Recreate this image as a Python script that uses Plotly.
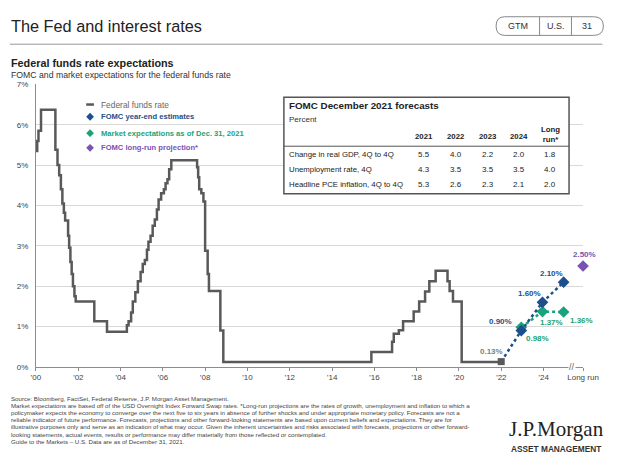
import plotly.graph_objects as go

W, H = 630, 467

# ---------------- data ----------------
ffr_dates = [2000.00, 2000.06, 2000.12, 2000.24, 2000.92, 2001.02, 2001.10, 2001.18, 2001.25,
             2001.32, 2001.38, 2001.52, 2001.57, 2001.63, 2001.69, 2001.75, 2001.82, 2001.88,
             2002.76, 2003.36, 2004.30, 2004.38, 2004.50, 2004.58, 2004.70, 2004.82, 2004.95,
             2005.05, 2005.15, 2005.25, 2005.32, 2005.42, 2005.52, 2005.62, 2005.72, 2005.80,
             2005.92, 2006.05, 2006.13, 2006.22, 2006.30, 2006.40, 2007.62, 2007.67, 2007.72,
             2007.82, 2007.92, 2008.00, 2008.12, 2008.18, 2008.72, 2008.86, 2015.86, 2016.84,
             2016.92, 2017.16, 2017.36, 2017.86, 2018.12, 2018.40, 2018.60, 2018.90, 2019.46,
             2019.56, 2019.72, 2020.13, 2022.00]
ffr_values = [5.35, 5.60, 5.85, 6.37, 5.38, 5.00, 4.75, 4.40, 4.05,
              3.82, 3.63, 3.25, 2.95, 2.60, 2.30, 2.00, 1.75, 1.62,
              1.13, 0.87, 1.03, 1.13, 1.35, 1.62, 1.85, 2.12, 2.35,
              2.55, 2.65, 2.90, 3.10, 3.25, 3.50, 3.65, 3.90, 4.15,
              4.30, 4.40, 4.55, 4.65, 4.90, 5.12, 4.95, 4.70, 4.40,
              4.30, 4.10, 2.88, 2.30, 1.88, 0.90, 0.12, 0.37, 0.62,
              0.82, 0.91, 1.13, 1.37, 1.62, 1.87, 2.12, 2.38, 2.12,
              1.88, 1.62, 0.12, 0.13]

LONG_RUN_X = 2025.87
start_x, start_val = 2022.0, 0.13
fomc_x = [2022.0, 2022.95, 2023.95, 2024.95]
fomc_values = [0.13, 0.90, 1.60, 2.10]
market_x = [2022.95, 2023.95, 2024.95]
market_values = [0.98, 1.37, 1.36]
longrun_value = 2.50

xtick_vals = [2000, 2002, 2004, 2006, 2008, 2010, 2012, 2014, 2016, 2018, 2020, 2022, 2024, LONG_RUN_X]
xtick_text = ["’00", "’02", "’04", "’06", "’08", "’10", "’12", "’14", "’16", "’18", "’20", "’22", "’24", "Long run"]
ytick_vals = [0, 1, 2, 3, 4, 5, 6, 7]
ytick_text = ["0%", "1%", "2%", "3%", "4%", "5%", "6%", "7%"]

table_title = "FOMC December 2021 forecasts"
table_cols = ["2021", "2022", "2023", "2024", "Long<br>run*"]
table_rows = ["Change in real GDP, 4Q to 4Q", "Unemployment rate, 4Q", "Headline PCE inflation, 4Q to 4Q"]
table_vals = [["5.5", "4.0", "2.2", "2.0", "1.8"],
              ["4.3", "3.5", "3.5", "3.5", "4.0"],
              ["5.3", "2.6", "2.3", "2.1", "2.0"]]

footer_lines = [
    "Source: Bloomberg, FactSet, Federal Reserve, J.P. Morgan Asset Management.",
    "Market expectations are based off of the USD Overnight Index Forward Swap rates. *Long-run projections are the rates of growth, unemployment and inflation to which a",
    "policymaker expects the economy to converge over the next five to six years in absence of further shocks and under appropriate monetary policy. Forecasts are not a",
    "reliable indicator of future performance. Forecasts, projections and other forward-looking statements are based upon current beliefs and expectations. They are for",
    "illustrative purposes only and serve as an indication of what may occur. Given the inherent uncertainties and risks associated with forecasts, projections or other forward-",
    "looking statements, actual events, results or performance may differ materially from those reflected or contemplated.",
    "Guide to the Markets – U.S. Data are as of December 31, 2021.",
]

# ---------------- styles ----------------
GRAY = "#595959"
BLUE = "#1c4f8c"
GREEN = "#1aa37a"
PURPLE = "#7a52b3"
FA = "Liberation Sans, Arial, sans-serif"


def px(x):
    return x / W


def py(y):
    return 1 - y / H


fig = go.Figure()

fig.add_trace(go.Scatter(x=ffr_dates, y=ffr_values, mode="lines", line=dict(color=GRAY, width=2.5, shape="hv"),
                         hoverinfo="skip", showlegend=False))
fig.add_trace(go.Scatter(x=market_x, y=market_values, mode="lines+markers",
                         line=dict(color=GREEN, width=2.5, dash="dot"),
                         marker=dict(symbol="diamond", size=9, color=GREEN), showlegend=False, cliponaxis=False))
fig.add_trace(go.Scatter(x=fomc_x, y=fomc_values, mode="lines",
                         line=dict(color=BLUE, width=2.5, dash="dot"), showlegend=False, cliponaxis=False))
fig.add_trace(go.Scatter(x=fomc_x[1:], y=fomc_values[1:], mode="markers",
                         marker=dict(symbol="diamond", size=9, color=BLUE), showlegend=False, cliponaxis=False))
fig.add_trace(go.Scatter(x=[start_x], y=[start_val], mode="markers",
                         marker=dict(symbol="square", size=7, color=GRAY), showlegend=False, cliponaxis=False))
fig.add_trace(go.Scatter(x=[LONG_RUN_X], y=[longrun_value], mode="markers",
                         marker=dict(symbol="diamond", size=9, color=PURPLE), showlegend=False, cliponaxis=False))

ann = []


def dlabel(x, y, text, color, xanchor, xshift, yshift):
    ann.append(dict(x=x, y=y, xref="x", yref="y", text="<b>%s</b>" % text, showarrow=False,
                    font=dict(family=FA, size=8, color=color), xanchor=xanchor, yanchor="middle",
                    xshift=xshift, yshift=yshift))


dlabel(start_x, start_val, "%.2f%%" % start_val, "#7f7f7f", "right", 4, 10)
dlabel(fomc_x[1], fomc_values[1], "%.2f%%" % fomc_values[1], BLUE, "right", -7, 9)
dlabel(fomc_x[2], fomc_values[2], "%.2f%%" % fomc_values[2], BLUE, "right", 1, 9)
dlabel(fomc_x[3], fomc_values[3], "%.2f%%" % fomc_values[3], BLUE, "right", 1, 9)
dlabel(market_x[0], market_values[0], "%.2f%%" % market_values[0], GREEN, "left", 3, -11)
dlabel(market_x[1], market_values[1], "%.2f%%" % market_values[1], GREEN, "center", 9, -11)
dlabel(market_x[2], market_values[2], "%.2f%%" % market_values[2], GREEN, "left", 4, -9)
dlabel(LONG_RUN_X, longrun_value, "%.2f%%" % longrun_value, PURPLE, "center", 1, 11)

# axis break mark
ann.append(dict(x=2025.35, y=0, xref="x", yref="y", text="//", showarrow=False,
                font=dict(family=FA, size=9, color="#666"), yanchor="middle", bgcolor="white", borderpad=0))

# header
ann.append(dict(x=px(4), y=py(22), xref="paper", yref="paper", text="The Fed and interest rates", showarrow=False,
                xanchor="left", yanchor="middle", font=dict(family=FA, size=16.3, color="#222")))
for txt, cx in [("GTM", 530.5), ("U.S.", 569.5), ("31", 602.5)]:
    ann.append(dict(x=px(cx), y=py(22.5), xref="paper", yref="paper", text=txt, showarrow=False,
                    xanchor="center", yanchor="middle", font=dict(family=FA, size=9, color="#333")))
ann.append(dict(x=px(4), y=py(60), xref="paper", yref="paper", text="<b>Federal funds rate expectations</b>",
                showarrow=False, xanchor="left", yanchor="middle", font=dict(family=FA, size=10.8, color="#222")))
ann.append(dict(x=px(4), y=py(72.5), xref="paper", yref="paper",
                text="FOMC and market expectations for the federal funds rate",
                showarrow=False, xanchor="left", yanchor="middle", font=dict(family=FA, size=8.7, color="#333")))

# legend
leg = [("Federal funds rate", "#666", False, 102.5), ("FOMC year-end estimates", BLUE, True, 115),
       ("Market expectations as of Dec. 31, 2021", GREEN, True, 131.7), ("FOMC long-run projection*", PURPLE, True, 146.7)]
for txt, col, bold, yy in leg:
    ann.append(dict(x=px(97), y=py(yy), xref="paper", yref="paper", text=("<b>%s</b>" % txt) if bold else txt,
                    showarrow=False, xanchor="left", yanchor="middle",
                    font=dict(family=FA, size=7.6 if bold else 8.4, color=col)))

# table
ann.append(dict(x=px(292), y=py(103.5), xref="paper", yref="paper", text="<b>%s</b>" % table_title, showarrow=False,
                xanchor="left", yanchor="middle", font=dict(family=FA, size=9.8, color="#222")))
ann.append(dict(x=px(292), y=py(117.5), xref="paper", yref="paper", text="Percent", showarrow=False,
                xanchor="left", yanchor="middle", font=dict(family=FA, size=8, color="#333")))
col_x = [433, 467, 500, 532, 564]
for i, c in enumerate(table_cols):
    yy = 135 if i < 4 else 133.5
    ann.append(dict(x=px(col_x[i]), y=py(yy), xref="paper", yref="paper", text="<b>%s</b>" % c, showarrow=False,
                    xanchor="center", yanchor="middle", font=dict(family=FA, size=7.8, color="#222")))
row_y = [153.5, 168.5, 184]
for r, lab in enumerate(table_rows):
    ann.append(dict(x=px(292), y=py(row_y[r]), xref="paper", yref="paper", text=lab, showarrow=False,
                    xanchor="left", yanchor="middle", font=dict(family=FA, size=7.8, color="#222")))
    for i, v in enumerate(table_vals[r]):
        ann.append(dict(x=px(col_x[i]), y=py(row_y[r]), xref="paper", yref="paper", text=v, showarrow=False,
                        xanchor="center", yanchor="middle", font=dict(family=FA, size=8, color="#222")))

# footer
fy = 402
for line in footer_lines:
    ann.append(dict(x=px(4), y=py(fy), xref="paper", yref="paper", text=line, showarrow=False,
                    xanchor="left", yanchor="middle", font=dict(family=FA, size=6.15, color="#444")))
    fy += 7.3
ann.append(dict(x=px(571), y=py(433), xref="paper", yref="paper", text="J.P.Morgan", showarrow=False,
                xanchor="center", yanchor="middle",
                font=dict(family="Liberation Serif, DejaVu Serif, serif", size=21, color="#222")))
ann.append(dict(x=px(570), y=py(454), xref="paper", yref="paper", text="<b>ASSET MANAGEMENT</b>", showarrow=False,
                xanchor="center", yanchor="middle", font=dict(family=FA, size=8.3, color="#333")))

shapes = [
    dict(type="line", xref="paper", yref="paper", x0=px(5), x1=px(618), y0=py(41), y1=py(41),
         line=dict(color="#999", width=1)),
    dict(type="path", xref="paper", yref="paper",
         path="M %f,%f L %f,%f Q %f,%f %f,%f Q %f,%f %f,%f L %f,%f Q %f,%f %f,%f Q %f,%f %f,%f Z" % (
             px(517), py(13), px(609), py(13), px(619), py(13), px(619), py(22.5),
             px(619), py(32), px(609), py(32), px(517), py(32), px(508), py(32), px(508), py(22.5),
             px(508), py(13), px(517), py(13)),
         line=dict(color="#888", width=1)),
    dict(type="line", xref="paper", yref="paper", x0=px(553), x1=px(553), y0=py(13), y1=py(32),
         line=dict(color="#888", width=1)),
    dict(type="line", xref="paper", yref="paper", x0=px(586), x1=px(586), y0=py(13), y1=py(32),
         line=dict(color="#888", width=1)),
    dict(type="line", xref="paper", yref="paper", x0=px(84), x1=px(92), y0=py(102.5), y1=py(102.5),
         line=dict(color=GRAY, width=2.5)),
    dict(type="rect", xref="paper", yref="paper", x0=px(288.5), x1=px(583.5), y0=py(95), y1=py(193.5),
         fillcolor="white", line=dict(color="#555", width=1.5), layer="above"),
    dict(type="line", xref="paper", yref="paper", x0=px(288.5), x1=px(583.5), y0=py(145), y1=py(145),
         line=dict(color="#555", width=1)),
]
for col, yy in [(BLUE, 115), (GREEN, 131.7), (PURPLE, 146.7)]:
    cx, r = 88, 4
    shapes.append(dict(type="path", xref="paper", yref="paper",
                       path="M %f,%f L %f,%f L %f,%f L %f,%f Z" % (px(cx), py(yy - r), px(cx + r), py(yy),
                                                                 px(cx), py(yy + r), px(cx - r), py(yy)),
                       fillcolor=col, line=dict(width=0)))

fig.update_layout(
    width=W, height=H, autosize=False, margin=dict(l=0, r=0, t=0, b=0, pad=0),
    paper_bgcolor="white", plot_bgcolor="white", showlegend=False,
    xaxis=dict(domain=[px(32), px(598)], range=[2000, LONG_RUN_X], tickvals=xtick_vals, ticktext=xtick_text,
               showgrid=False, zeroline=False, showline=True, linecolor="#8c8c8c", linewidth=1,
               ticks="outside", ticklen=3, tickcolor="#8c8c8c", tickfont=dict(family=FA, size=8, color="#444")),
    yaxis=dict(domain=[1 - 370 / H, 1 - 82 / H], range=[0, 7], tickvals=ytick_vals, ticktext=ytick_text,
               showgrid=True, gridcolor="#d9d9d9", gridwidth=1, zeroline=False, showline=True,
               linecolor="#8c8c8c", linewidth=1, ticks="", ticklabelstandoff=5,
               tickfont=dict(family=FA, size=8, color="#444")),
    annotations=ann, shapes=shapes,
)

fig.write_html("out.html")
